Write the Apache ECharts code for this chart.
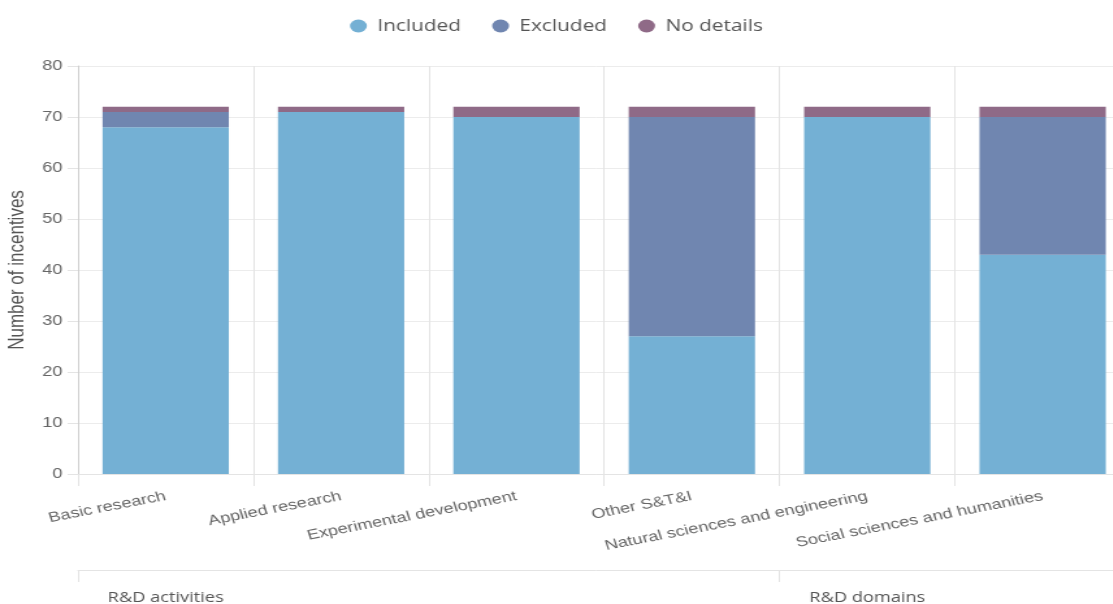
<!DOCTYPE html>
<html>
<head>
<meta charset="utf-8">
<title>Incentives by R&amp;D activity and domain</title>
<script src="https://cdn.jsdelivr.net/npm/echarts@6/dist/echarts.min.js"></script>
<style>
  html, body { margin: 0; padding: 0; background: #fff; overflow: hidden; }
  #wrap { width: 1113px; height: 604px; overflow: hidden; }
  /* the chart is laid out on a narrower canvas and widened horizontally */
  #chart { width: 856px; height: 604px; transform: scaleX(1.3); transform-origin: 0 0; }
</style>
</head>
<body>
<div id="wrap"><div id="chart"></div></div>
<script>
// Categories and their grouping
const categories = [
  'Basic research',
  'Applied research',
  'Experimental development',
  'Other S&T&I',
  'Natural sciences and engineering',
  'Social sciences and humanities'
];
const groupLabels = ['R&D activities', '', '', '', 'R&D domains', ''];
const groupStarts = [0, 4];

// Number of incentives per category
const included  = [68, 71, 70, 27, 70, 43];
const excluded  = [3, 0, 0, 43, 0, 27];
const noDetails = [1, 1, 2, 2, 2, 2];

const seriesNames = ['Included', 'Excluded', 'No details'];
const seriesColors = ['#74b0d4', '#7086b0', '#8f6a87'];

const yMin = 0, yMax = 80, yStep = 10;

const chart = echarts.init(document.getElementById('chart'), null, { renderer: 'canvas' });

const gridLine = '#e4e4e4';
const labelFont = 'Liberation Sans, Arial, sans-serif';
const softFont = 'Open Sans, Noto Sans, sans-serif';

chart.setOption({
  animation: false,
  backgroundColor: '#fff',
  color: seriesColors,
  legend: {
    top: 13,
    left: 'center',
    icon: 'circle',
    itemWidth: 13,
    itemHeight: 13,
    itemGap: 24,
    textStyle: { fontFamily: softFont, fontSize: 16, color: '#555', padding: [0, 0, 0, 3] },
    data: seriesNames
  },
  grid: {
    left: 60,
    top: 66,
    width: 809.5,
    height: 408,
    containLabel: false,
    outerBoundsMode: 'none'
  },
  xAxis: [
    {
      type: 'category',
      data: categories,
      boundaryGap: true,
      axisLine: { show: true, lineStyle: { color: gridLine } },
      axisTick: { show: true, interval: 0, length: 12, lineStyle: { color: gridLine } },
      splitLine: { show: true, interval: 0, lineStyle: { color: gridLine, width: 1 } },
      axisLabel: {
        interval: 0,
        rotate: 14,
        margin: 22,
        fontFamily: labelFont,
        fontSize: 14,
        color: '#666',
        hideOverlap: false
      }
    },
    {
      type: 'category',
      data: groupLabels,
      position: 'bottom',
      offset: 96,
      boundaryGap: true,
      axisLine: { show: true, lineStyle: { color: gridLine } },
      axisTick: {
        show: true,
        length: 12,
        interval: function (index) { return groupStarts.indexOf(index) !== -1; },
        lineStyle: { color: gridLine }
      },
      splitLine: { show: false },
      axisLabel: {
        interval: 0,
        margin: 21,
        fontFamily: softFont,
        fontSize: 14,
        color: '#555'
      }
    }
  ],
  yAxis: {
    type: 'value',
    min: yMin,
    max: yMax,
    interval: yStep,
    name: 'Number of incentives',
    nameLocation: 'middle',
    nameGap: 36,
    nameTextStyle: { fontFamily: labelFont, fontSize: 17, color: '#555' },
    axisLine: { show: true, lineStyle: { color: '#cfcfcf' } },
    axisTick: { show: true, length: 8, lineStyle: { color: gridLine } },
    splitLine: { show: true, lineStyle: { color: '#ececec' } },
    axisLabel: { margin: 12, fontFamily: labelFont, fontSize: 14, color: '#666' }
  },
  series: [
    { name: seriesNames[0], type: 'bar', stack: 'total', barWidth: '72%', data: included,  itemStyle: { color: seriesColors[0] } },
    { name: seriesNames[1], type: 'bar', stack: 'total', barWidth: '72%', data: excluded,  itemStyle: { color: seriesColors[1] } },
    { name: seriesNames[2], type: 'bar', stack: 'total', barWidth: '72%', data: noDetails, itemStyle: { color: seriesColors[2] } }
  ]
});
</script>
</body>
</html>
